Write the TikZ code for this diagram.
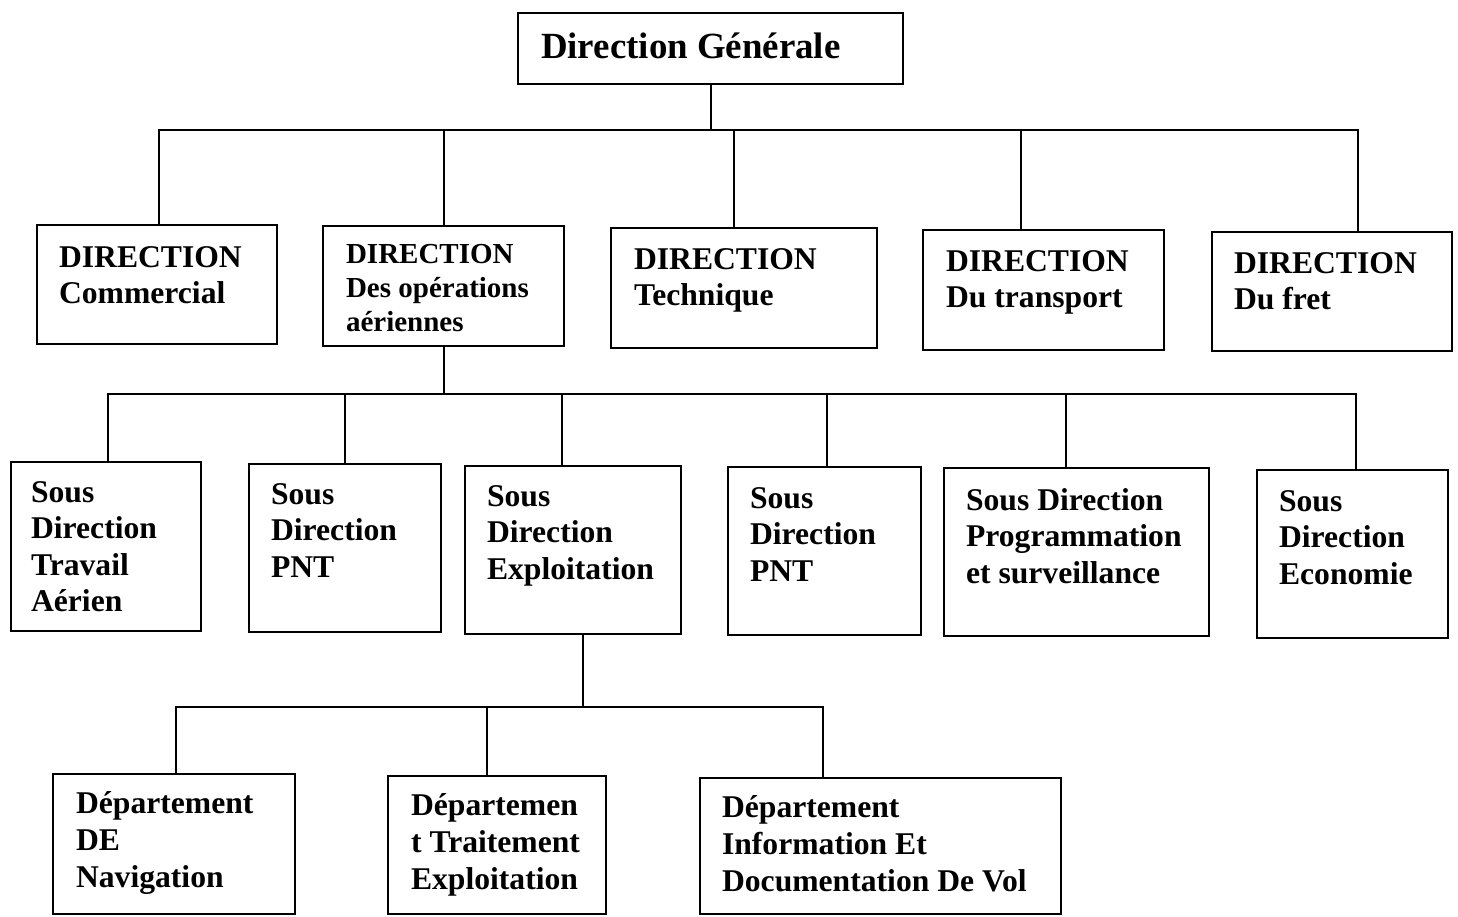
\documentclass[tikz,border=0pt]{standalone}
\usepackage{fontspec}
\setmainfont{Liberation Serif}
\begin{document}
\begin{tikzpicture}[line width=1.2pt,
    box/.style={draw, anchor=north west, inner sep=0pt},
    lbl/.style={anchor=north west, align=left, inner sep=0pt, font=\bfseries\fontsize{18}{20.8}\selectfont}]
  \useasboundingbox (0,0) rectangle (29.16,-18.32);
  % direction generale
  \node[box, minimum width=7.7cm, minimum height=1.42cm] (dg) at (10.34,-0.24) {};
  \node[lbl, font=\bfseries\fontsize{21}{24}\selectfont] (dg-t) at (10.8,-0.64) {Direction Générale};
  % directions
  \node[box, minimum width=4.8cm, minimum height=2.38cm] (com) at (0.72,-4.48) {};
  \node[box, minimum width=4.82cm, minimum height=2.4cm] (ope) at (6.44,-4.5) {};
  \node[box, minimum width=5.32cm, minimum height=2.4cm] (tec) at (12.2,-4.54) {};
  \node[box, minimum width=4.82cm, minimum height=2.4cm] (tra) at (18.44,-4.58) {};
  \node[box, minimum width=4.8cm, minimum height=2.38cm] (fre) at (24.22,-4.62) {};
  \node[lbl] (com-t) at (1.16,-4.9) {DIRECTION\\Commercial};
  \node[lbl, font=\bfseries\fontsize{16.5}{19.3}\selectfont] (ope-t) at (6.9,-4.86) {DIRECTION\\Des opérations\\aériennes};
  \node[lbl] (tec-t) at (12.66,-4.94) {DIRECTION\\Technique};
  \node[lbl] (tra-t) at (18.9,-4.98) {DIRECTION\\Du transport};
  \node[lbl] (fre-t) at (24.66,-5.02) {DIRECTION\\Du fret};
  % sous directions
  \node[box, minimum width=3.8cm, minimum height=3.38cm] (stra) at (0.2,-9.22) {};
  \node[box, minimum width=3.84cm, minimum height=3.36cm] (spnta) at (4.96,-9.26) {};
  \node[box, minimum width=4.32cm, minimum height=3.36cm] (sexp) at (9.28,-9.3) {};
  \node[box, minimum width=3.86cm, minimum height=3.36cm] (spntb) at (14.54,-9.32) {};
  \node[box, minimum width=5.3cm, minimum height=3.36cm] (sprog) at (18.86,-9.34) {};
  \node[box, minimum width=3.82cm, minimum height=3.36cm] (seco) at (25.12,-9.38) {};
  \node[lbl] (stra-t) at (0.6,-9.6) {Sous\\Direction\\Travail\\Aérien};
  \node[lbl] (spnta-t) at (5.4,-9.64) {Sous\\Direction\\PNT};
  \node[lbl] (sexp-t) at (9.72,-9.68) {Sous\\Direction\\Exploitation};
  \node[lbl] (spntb-t) at (14.98,-9.72) {Sous\\Direction\\PNT};
  \node[lbl] (sprog-t) at (19.3,-9.74) {Sous Direction\\Programmation\\et surveillance};
  \node[lbl] (seco-t) at (25.56,-9.78) {Sous\\Direction\\Economie};
  % departements
  \node[box, minimum width=4.84cm, minimum height=2.8cm] (dnav) at (1.04,-15.46) {};
  \node[box, minimum width=4.36cm, minimum height=2.76cm] (dtrt) at (7.74,-15.5) {};
  \node[box, minimum width=7.22cm, minimum height=2.72cm] (dinf) at (13.98,-15.54) {};
  \node[lbl, font=\bfseries\fontsize{18}{21.3}\selectfont] (dnav-t) at (1.5,-15.8) {Département\\DE\\Navigation};
  \node[lbl, font=\bfseries\fontsize{18}{21.3}\selectfont] (dtrt-t) at (8.2,-15.84) {Départemen\\t Traitement\\Exploitation};
  \node[lbl, font=\bfseries\fontsize{18}{21.3}\selectfont] (dinf-t) at (14.42,-15.88) {Département\\Information Et\\Documentation De Vol};
  % liaisons
  \coordinate (b1) at ([yshift=-0.9cm]dg.south);
  \draw (dg.south) -- (b1);
  \draw ([xshift=0.04cm]com.north) |- (b1);
  \draw (ope.north) |- (b1);
  \draw ([xshift=-0.2cm]tec.north) |- (b1);
  \draw ([xshift=-0.45cm]tra.north) |- (b1);
  \draw ([xshift=0.52cm]fre.north) |- (b1);
  \coordinate (b2) at ([yshift=-0.94cm]ope.south);
  \draw (ope.south) -- (b2);
  \draw ([xshift=0.04cm]stra.north) |- (b2);
  \draw (spnta.north) |- (b2);
  \draw ([xshift=-0.22cm]sexp.north) |- (b2);
  \draw ([xshift=0.05cm]spntb.north) |- (b2);
  \draw ([xshift=-0.21cm]sprog.north) |- (b2);
  \draw ([xshift=0.07cm]seco.north) |- (b2);
  \coordinate (b3) at ([xshift=0.2cm,yshift=-1.44cm]sexp.south);
  \draw ([xshift=0.2cm]sexp.south) -- (b3);
  \draw ([xshift=0.04cm]dnav.north) |- (b3);
  \draw ([xshift=-0.2cm]dtrt.north) |- (b3);
  \draw ([xshift=-1.15cm]dinf.north) |- (b3);
\end{tikzpicture}
\end{document}
